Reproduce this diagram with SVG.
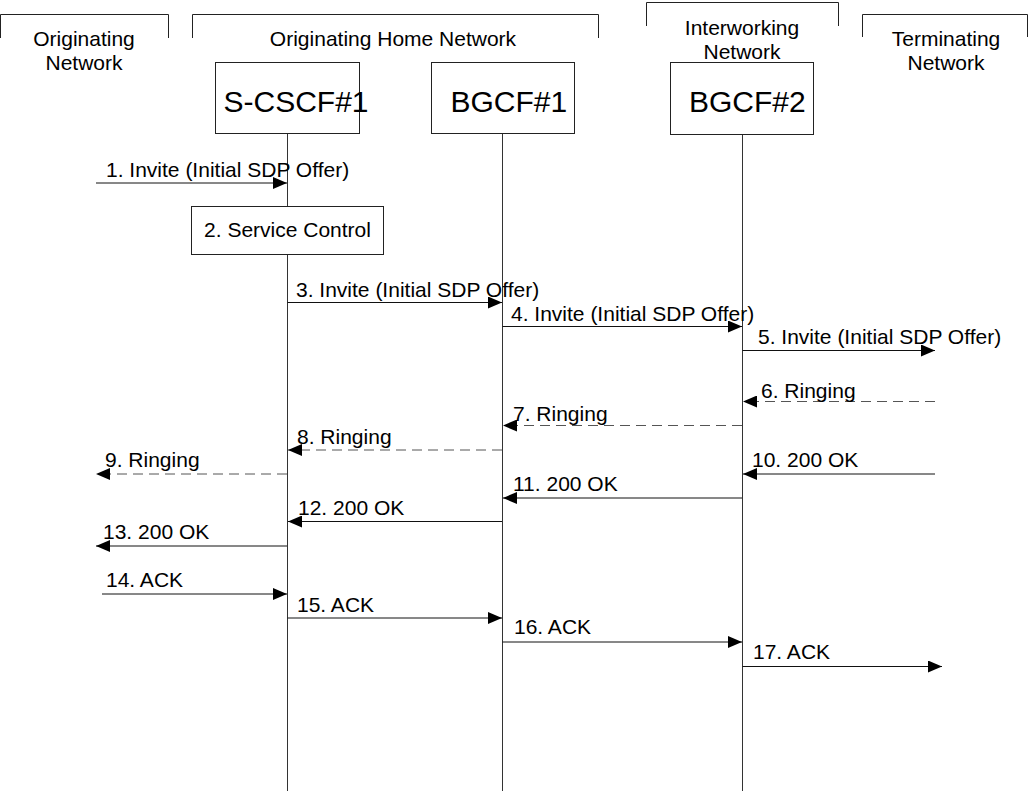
<svg xmlns="http://www.w3.org/2000/svg" width="1030" height="791" viewBox="0 0 1030 791">
<style>
text{font-family:"Liberation Sans",Arial,sans-serif;font-size:21px;fill:#000}
.big{font-size:30px}
.mid{text-anchor:middle}
.br{fill:none;stroke:#222;stroke-width:1}
.box{fill:#fff;stroke:#222;stroke-width:1}
.life{stroke:#333;stroke-width:1;fill:none}
.msg{stroke:#111;stroke-width:1;fill:none;marker-end:url(#ah)}
.dash{stroke:#555;stroke-dasharray:10 6}
</style>
<defs>
<marker id="ah" markerUnits="userSpaceOnUse" markerWidth="14" markerHeight="12" refX="14" refY="6" orient="auto">
<path d="M0,0 L14,6 L0,12 z" fill="#000"/>
</marker>
</defs>
<g id="headers">
<g id="hdr-orig">
<path class="br" d="M0.5,38 V14.5 H168.5 V38"/>
<text class="mid" x="84" y="45.5">Originating</text>
<text class="mid" x="84" y="70">Network</text>
</g>
<g id="hdr-home">
<path class="br" d="M192.5,38 V14.5 H598.5 V38"/>
<text class="mid" x="393" y="45.5">Originating Home Network</text>
</g>
<g id="hdr-inter">
<path class="br" d="M646.5,26 V2.5 H838.5 V26"/>
<text class="mid" x="742" y="34.5">Interworking</text>
<text class="mid" x="742" y="58.5">Network</text>
</g>
<g id="hdr-term">
<path class="br" d="M862.5,37 V14.5 H1027.5 V37"/>
<text class="mid" x="946" y="45.5">Terminating</text>
<text class="mid" x="946" y="70">Network</text>
</g>
</g>
<g id="lifelines">
<line class="life" x1="287.5" y1="133" x2="287.5" y2="791"/>
<line class="life" x1="502.5" y1="133" x2="502.5" y2="791"/>
<line class="life" x1="742.5" y1="134" x2="742.5" y2="791"/>
</g>
<g id="node-scscf1">
<rect class="box" x="215.5" y="62.5" width="144" height="71"/>
<text class="big" x="223.5" y="112">S-CSCF#1</text>
</g>
<g id="node-bgcf1">
<rect class="box" x="431.5" y="62.5" width="143" height="71"/>
<text class="big" x="450.5" y="112">BGCF#1</text>
</g>
<g id="node-bgcf2">
<rect class="box" x="670.5" y="62.5" width="143" height="72"/>
<text class="big" x="689" y="112">BGCF#2</text>
</g>
<g id="node-service-control">
<rect class="box" x="191.5" y="206.5" width="192" height="48"/>
<text class="mid" x="287.5" y="236.5">2. Service Control</text>
</g>
<g id="connectors">
<line class="msg" x1="96" y1="183" x2="287" y2="183"/>
<line class="msg" x1="287.5" y1="302.5" x2="502" y2="302.5"/>
<line class="msg" x1="502.5" y1="326.5" x2="742" y2="326.5"/>
<line class="msg" x1="742.5" y1="350.5" x2="935" y2="350.5"/>
<line class="msg dash" x1="935" y1="401.5" x2="743" y2="401.5"/>
<line class="msg dash" x1="742" y1="425.5" x2="503" y2="425.5"/>
<line class="msg dash" x1="502" y1="450" x2="288" y2="450"/>
<line class="msg dash" x1="287" y1="474" x2="96" y2="474"/>
<line class="msg" x1="935" y1="474" x2="743" y2="474"/>
<line class="msg" x1="742" y1="498" x2="503" y2="498"/>
<line class="msg" x1="502" y1="521.5" x2="288" y2="521.5"/>
<line class="msg" x1="287" y1="546" x2="96" y2="546"/>
<line class="msg" x1="102" y1="594" x2="287" y2="594"/>
<line class="msg" x1="287.5" y1="618" x2="502" y2="618"/>
<line class="msg" x1="502.5" y1="642" x2="742" y2="642"/>
<line class="msg" x1="742.5" y1="666.5" x2="942" y2="666.5"/>
</g>
<g id="labels">
<text x="106" y="177">1. Invite (Initial SDP Offer)</text>
<text x="296" y="296.5">3. Invite (Initial SDP Offer)</text>
<text x="511" y="320.5">4. Invite (Initial SDP Offer)</text>
<text x="758" y="344">5. Invite (Initial SDP Offer)</text>
<text x="761" y="398">6. Ringing</text>
<text x="513" y="421">7. Ringing</text>
<text x="297" y="443.5">8. Ringing</text>
<text x="105" y="467">9. Ringing</text>
<text x="752" y="467">10. 200 OK</text>
<text x="513" y="491">11. 200 OK</text>
<text x="298" y="515">12. 200 OK</text>
<text x="103" y="539">13. 200 OK</text>
<text x="106" y="587">14. ACK</text>
<text x="297" y="611.5">15. ACK</text>
<text x="514" y="633.5">16. ACK</text>
<text x="753" y="658.5">17. ACK</text>
</g>
</svg>
